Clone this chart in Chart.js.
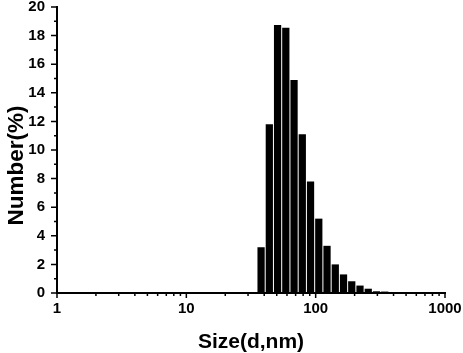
<!DOCTYPE html>
<html><head><meta charset="utf-8">
<script src="https://cdn.jsdelivr.net/npm/chart.js@4/dist/chart.umd.min.js"></script>
<style>html,body{margin:0;padding:0;background:#fff}</style>
</head><body>
<canvas id="c" width="463" height="353"></canvas>
<script>
// ---- data ----
const sizeBins = [37.84, 43.82, 50.75, 58.77, 68.06, 78.82, 91.28, 105.7, 122.4, 141.8, 164.2, 190.1, 220.2, 255.0, 295.3, 342.0];
const numberPct = [3.2, 11.8, 18.75, 18.55, 14.9, 11.1, 7.8, 5.2, 3.3, 2.0, 1.3, 0.82, 0.52, 0.3, 0.12, 0.1];
const xTickLabels = [1, 10, 100, 1000];
const yTickLabels = [0, 2, 4, 6, 8, 10, 12, 14, 16, 18, 20];
const xTitle = 'Size(d,nm)';
const yTitle = 'Number(%)';

const FONT = '"Liberation Sans", Arial, sans-serif';
Chart.defaults.font.family = FONT;
Chart.defaults.font.size = 15;
Chart.defaults.font.weight = 'bold';
Chart.defaults.color = '#000';

const tickMarks = {
  id: 'tickMarks',
  afterDraw(chart) {
    const ctx = chart.ctx, x = chart.scales.x, y = chart.scales.y;
    const a = chart.chartArea;
    ctx.save();
    ctx.strokeStyle = '#000';
    ctx.lineWidth = 1.5;
    ctx.beginPath();
    for (let i = 0; i < yTickLabels.length; i++) {
      const py = y.getPixelForValue(yTickLabels[i]);
      ctx.moveTo(a.left, py); ctx.lineTo(a.left - 6, py);
      if (i < yTickLabels.length - 1) {
        const pm = y.getPixelForValue((yTickLabels[i] + yTickLabels[i + 1]) / 2);
        ctx.moveTo(a.left, pm); ctx.lineTo(a.left - 3, pm);
      }
    }
    for (let i = 0; i < xTickLabels.length; i++) {
      const d = xTickLabels[i];
      const px = x.getPixelForValue(d);
      ctx.moveTo(px, a.bottom); ctx.lineTo(px, a.bottom + 5);
      if (i < xTickLabels.length - 1) {
        for (let k = 2; k <= 9; k++) {
          const pm = x.getPixelForValue(d * k);
          ctx.moveTo(pm, a.bottom); ctx.lineTo(pm, a.bottom + 3);
        }
      }
    }
    ctx.stroke();
    ctx.fillStyle = '#000';
    ctx.font = 'bold 21px ' + FONT;
    ctx.textAlign = 'center';
    ctx.textBaseline = 'alphabetic';
    ctx.fillText(xTitle, (a.left + a.right) / 2, 348);
    ctx.translate(22.5, 165.5);
    ctx.rotate(-Math.PI / 2);
    ctx.font = 'bold 22.5px ' + FONT;
    ctx.fillText(yTitle, 0, 0);
    ctx.restore();
  }
};

new Chart(document.getElementById('c'), {
  type: 'bar',
  data: {
    datasets: [{
      data: sizeBins.map((s, i) => ({ x: s, y: numberPct[i] })),
      backgroundColor: '#000',
      borderWidth: 0,
      barPercentage: 0.88,
      categoryPercentage: 1
    }]
  },
  options: {
    responsive: false,
    devicePixelRatio: 1,
    animation: false,
    layout: { padding: { top: 7, right: 18, left: 0, bottom: 0 } },
    plugins: { legend: { display: false }, tooltip: { enabled: false } },
    scales: {
      x: {
        type: 'logarithmic',
        position: 'bottom',
        min: 1, max: 1000,
        afterBuildTicks: s => { s.ticks = xTickLabels.map(v => ({ value: v })); },
        afterFit: s => { s.height = 60; s.paddingLeft = 0; s.paddingRight = 0; },
        ticks: {
          callback: v => String(v),
          autoSkip: false, maxRotation: 0,
          color: '#000', padding: 7,
          font: { family: FONT, size: 15, weight: 'bold' }
        },
        grid: { display: true, drawOnChartArea: false, drawTicks: false },
        border: { display: true, color: '#000', width: 2 }
      },
      y: {
        type: 'linear',
        min: 0, max: 20,
        afterBuildTicks: s => { s.ticks = yTickLabels.map(v => ({ value: v })); },
        afterFit: s => { s.width = 57; s.paddingTop = 0; s.paddingBottom = 0; },
        ticks: {
          color: '#000', padding: 12,
          font: { family: FONT, size: 15, weight: 'bold' }
        },
        grid: { display: true, drawOnChartArea: false, drawTicks: false },
        border: { display: true, color: '#000', width: 2 }
      }
    }
  },
  plugins: [tickMarks]
});
</script>
</body></html>
